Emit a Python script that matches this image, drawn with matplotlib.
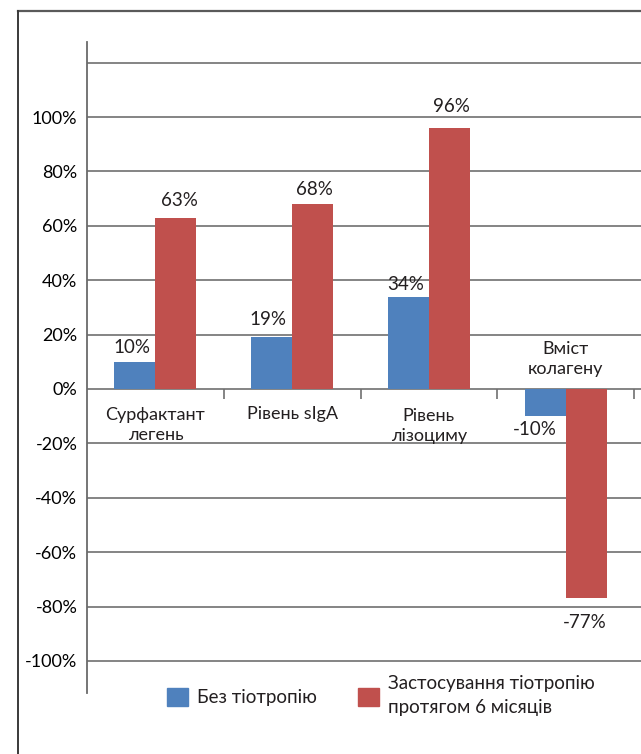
import matplotlib
matplotlib.use("Agg")
import matplotlib.pyplot as plt
import numpy as np
from matplotlib.lines import Line2D
from matplotlib.patches import Patch

plt.rcParams["font.family"] = ["Lato", "DejaVu Sans"]
plt.rcParams["text.color"] = "#231f20"

categories = ["Сурфактант\nлегень", "Рівень sIgA", "Рівень\nлізоциму", "Вміст\nколагену"]
no_tiotropium = [10, 19, 34, -10]
with_tiotropium = [63, 68, 96, -77]
series_names = ["Без тіотропію", "Застосування тіотропію\nпротягом 6 місяців"]
y_ticks = [-100, -80, -60, -40, -20, 0, 20, 40, 60, 80, 100, 120]
y_tick_labels = ["-100%", "-80%", "-60%", "-40%", "-20%", "0%",
                 "20%", "40%", "60%", "80%", "100%", ""]

# label nudges in pixels (dx, dy) relative to the bar end
blue_nudge = [(-3, 14), (-4, 18), (-3, 12), (-10, -13)]
red_nudge = [(4, 17), (2, 15), (2, 21), (-1, -24)]
cat_dy = [-36, -25, -37, 30]

blue = "#4f81bd"
red = "#c0504d"
grid_col = "#707070"

W, H = 641, 754
fig = plt.figure(figsize=(W / 100, H / 100), dpi=100)
ax = fig.add_axes([87 / W, (H - 693) / H, (W - 87) / W, (693 - 42) / H])

x = np.arange(len(categories))
w = 0.3
ax.bar(x - w / 2, no_tiotropium, w, color=blue, zorder=3)
ax.bar(x + w / 2, with_tiotropium, w, color=red, zorder=3)

px_per_cat = (634 - 87) / 4
ax.set_xlim(-0.5, 3.5 + (W - 634) / px_per_cat)
ax.set_ylim(-111.8, 127.6)

ax.set_yticks(y_ticks)
ax.set_yticklabels(y_tick_labels, fontsize=13)
ax.tick_params(axis="y", length=0, pad=7)
ax.set_xticks([])
ax.yaxis.grid(True, color=grid_col, lw=1.2, zorder=0)
ax.set_axisbelow(True)

for s in ["top", "right", "bottom"]:
    ax.spines[s].set_visible(False)
ax.spines["left"].set_color("#6a6a6a")
ax.spines["left"].set_linewidth(1.3)

# category separators hanging below the zero line
ax.vlines([0.5, 1.5, 2.5, 3.5], -3.8, 0, color=grid_col, lw=1.2, zorder=2)

for i in range(len(categories)):
    for vals, off, nudge in ((no_tiotropium, -w / 2, blue_nudge),
                             (with_tiotropium, w / 2, red_nudge)):
        v = vals[i]
        ax.annotate(f"{v}%", xy=(x[i] + off, v), xytext=nudge[i],
                    textcoords="offset pixels", ha="center", va="center",
                    fontsize=13.5, zorder=4)
    ax.annotate(categories[i], xy=(x[i], 0), xytext=(0, cat_dy[i]),
                textcoords="offset pixels", ha="center", va="center",
                fontsize=13, linespacing=1.3, zorder=4)

handles = [Patch(color=blue), Patch(color=red)]
leg = fig.legend(handles, series_names, loc="center left",
                 bbox_to_anchor=(167 / W, (H - 696) / H), ncol=2, frameon=False,
                 fontsize=13.5, borderpad=0, borderaxespad=0, handlelength=1.12,
                 handleheight=1.12, handletextpad=0.48, columnspacing=2.2)
for t in leg.get_texts():
    t.set_linespacing(1.5)

# outer frame
fig.add_artist(Line2D([18 / W, 1.0], [1 - 10.5 / H] * 2, color="#5a5a5a",
                      lw=1.6, transform=fig.transFigure))
fig.add_artist(Line2D([18 / W] * 2, [0.0, 1 - 10.5 / H], color="#3a3a3a",
                      lw=1.4, transform=fig.transFigure))

fig.savefig("out.png", dpi=100, facecolor="white")
